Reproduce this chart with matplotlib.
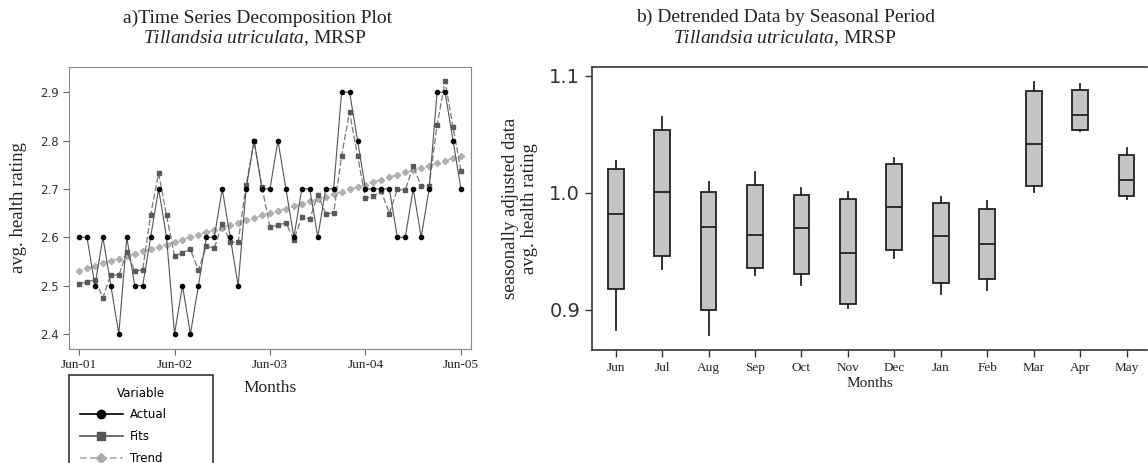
import numpy as np
import matplotlib
matplotlib.use("Agg")
import matplotlib.pyplot as plt
from matplotlib.lines import Line2D

plt.rcParams['mathtext.fontset'] = 'custom'
plt.rcParams['mathtext.rm'] = 'Liberation Serif'
plt.rcParams['mathtext.it'] = 'Liberation Serif:italic'

# data: panel a, monthly series Jun-01 .. Jun-05
actual = [2.6, 2.6, 2.5, 2.6, 2.5, 2.4, 2.6, 2.5, 2.5, 2.6, 2.7, 2.6, 2.4,
          2.5, 2.4, 2.5, 2.6, 2.6, 2.7, 2.6, 2.5, 2.7, 2.8, 2.7, 2.7, 2.8,
          2.7, 2.6, 2.7, 2.7, 2.6, 2.7, 2.7, 2.9, 2.9, 2.8, 2.7, 2.7, 2.7,
          2.7, 2.6, 2.6, 2.7, 2.6, 2.7, 2.9, 2.9, 2.8, 2.7]
fits = [2.503, 2.508, 2.512, 2.475, 2.523, 2.521, 2.569, 2.531, 2.532, 2.647,
        2.732, 2.645, 2.561, 2.568, 2.575, 2.532, 2.581, 2.578, 2.628, 2.590,
        2.590, 2.708, 2.798, 2.703, 2.621, 2.625, 2.630, 2.595, 2.642, 2.638,
        2.688, 2.649, 2.650, 2.769, 2.859, 2.768, 2.681, 2.685, 2.695, 2.649,
        2.699, 2.697, 2.748, 2.705, 2.707, 2.832, 2.923, 2.828, 2.738]
trend = [2.531, 2.536, 2.541, 2.546, 2.551, 2.556, 2.561, 2.566, 2.571, 2.575,
         2.580, 2.585, 2.590, 2.595, 2.600, 2.605, 2.610, 2.615, 2.620, 2.625,
         2.630, 2.635, 2.640, 2.645, 2.650, 2.655, 2.659, 2.664, 2.669, 2.674,
         2.679, 2.684, 2.689, 2.694, 2.699, 2.704, 2.709, 2.714, 2.719, 2.724,
         2.729, 2.734, 2.739, 2.743, 2.748, 2.753, 2.758, 2.763, 2.768]
year_labels = ["Jun-01", "Jun-02", "Jun-03", "Jun-04", "Jun-05"]

# data: panel b, detrended data by month (box plot stats)
months = ["Jun", "Jul", "Aug", "Sep", "Oct", "Nov", "Dec", "Jan", "Feb", "Mar", "Apr", "May"]
wlo = [0.883, 0.935, 0.879, 0.930, 0.921, 0.902, 0.944, 0.914, 0.917, 1.001, 1.053, 0.995]
q1 = [0.918, 0.946, 0.900, 0.936, 0.931, 0.905, 0.951, 0.923, 0.926, 1.006, 1.054, 0.997]
med = [0.982, 1.001, 0.971, 0.964, 0.970, 0.949, 0.988, 0.963, 0.956, 1.042, 1.066, 1.011]
q3 = [1.020, 1.054, 1.001, 1.007, 0.998, 0.995, 1.025, 0.991, 0.986, 1.087, 1.088, 1.032]
whi = [1.027, 1.065, 1.009, 1.018, 1.004, 1.001, 1.030, 0.996, 0.993, 1.095, 1.093, 1.038]

W, H = 1148, 463
fig = plt.figure(figsize=(W / 100, H / 100), dpi=100)

serif = 'Liberation Serif'

# ---- panel a
ax1 = fig.add_axes([69 / W, 1 - 349 / H, 402 / W, 282 / H])
x = np.arange(len(actual))
ax1.plot(x, trend, color='#b4b4b4', ls=(0, (2, 1.5)), lw=1.2, marker='D', ms=3.2,
         mec='#b0b0b0', mfc='#b0b0b0')
ax1.plot(x, fits, color='#777777', ls=(0, (5, 2)), lw=0.9, marker='s', ms=3.2,
         mec='#5a5a5a', mfc='#5a5a5a')
ax1.plot(x, actual, color='#555555', lw=0.8, marker='o', ms=3.0,
         mec='black', mfc='black')
ax1.set_xlim(-1.26, len(actual) - 1 + 1.26)
ax1.set_ylim(2.369, 2.952)
ax1.set_xticks(np.arange(0, len(actual), 12))
ax1.set_xticklabels(year_labels, family=serif, fontsize=9.5, color='#222222')
ax1.set_yticks([2.4, 2.5, 2.6, 2.7, 2.8, 2.9])
ax1.set_yticklabels(["2.4", "2.5", "2.6", "2.7", "2.8", "2.9"], fontsize=8.5, color='#333333')
for s in ax1.spines.values():
    s.set_color('#888888')
ax1.tick_params(color='#666666', length=4, width=0.8)
ax1.set_xlabel("Months", family=serif, fontsize=12.5, labelpad=6, color='#222222')
ax1.set_ylabel("avg. health rating", family=serif, fontsize=13.5, labelpad=9, color='#222222')

# legend sits under panel a and runs off the bottom edge, as in the original
handles = [
    Line2D([], [], color='black', marker='o', ms=6, lw=1.2),
    Line2D([], [], color='#555555', marker='s', ms=6, lw=1.2),
    Line2D([], [], color='#aaaaaa', marker='D', ms=5, lw=1.2, ls=(0, (4, 2))),
]
leg = fig.legend(handles, ["Actual", "Fits", "Trend"], title="Variable",
                 loc='upper left', bbox_to_anchor=(69 / W, 1 - 380 / H, 144 / W, 0.01),
                 mode='expand', frameon=True, fancybox=False, edgecolor='black',
                 fontsize=8.5, title_fontsize=8.5, handlelength=3.6, labelspacing=0.75,
                 borderpad=0.95, handletextpad=0.6, borderaxespad=0)
leg.get_frame().set_linewidth(1.2)

fig.text(258 / W, 1 - 18 / H, "a)Time Series Decomposition Plot", family=serif,
         fontsize=14, ha='center', va='center', color='#222222')
fig.text(255 / W, 1 - 38 / H, r"$\mathit{Tillandsia\ utriculata}$, MRSP", family=serif,
         fontsize=14, ha='center', va='center', color='#222222')

# ---- panel b
ax2 = fig.add_axes([592 / W, 1 - 350 / H, 555 / W, 283 / H])
stats = []
for i, m in enumerate(months):
    stats.append(dict(label=m, whislo=wlo[i], q1=q1[i], med=med[i], q3=q3[i], whishi=whi[i], fliers=[]))
ax2.bxp(stats, positions=np.arange(1, len(months) + 1), widths=0.34, showcaps=False,
        patch_artist=True,
        boxprops=dict(facecolor='#c4c4c4', edgecolor='#222222', linewidth=1.3),
        medianprops=dict(color='#222222', linewidth=1.3),
        whiskerprops=dict(color='#222222', linewidth=1.3))
ax2.set_xlim(0.49, 12.44)
ax2.set_ylim(0.8658, 1.1074)
ax2.set_xticks(np.arange(1, len(months) + 1))
ax2.set_xticklabels(months, family=serif, fontsize=9.5, color='#222222')
ax2.set_yticks([0.9, 1.0, 1.1])
ax2.set_yticklabels(["0.9", "1.0", "1.1"], fontsize=14, color='#333333')
ax2.spines['right'].set_visible(False)
for s in ['top', 'left', 'bottom']:
    ax2.spines[s].set_color('#333333')
    ax2.spines[s].set_linewidth(1.2)
ax2.tick_params(color='#333333', length=5, width=1)
ax2.set_xlabel("Months", family=serif, fontsize=11, labelpad=2, color='#222222')
ax2.set_ylabel("seasonally adjusted data\navg. health rating", family=serif,
               fontsize=13.5, labelpad=8, linespacing=1.15, color='#222222')

fig.text(786 / W, 1 - 17 / H, "b) Detrended Data by Seasonal Period", family=serif,
         fontsize=14, ha='center', va='center', color='#222222')
fig.text(785 / W, 1 - 38 / H, r"$\mathit{Tillandsia\ utriculata}$, MRSP", family=serif,
         fontsize=14, ha='center', va='center', color='#222222')

fig.savefig("out.png", dpi=100)
